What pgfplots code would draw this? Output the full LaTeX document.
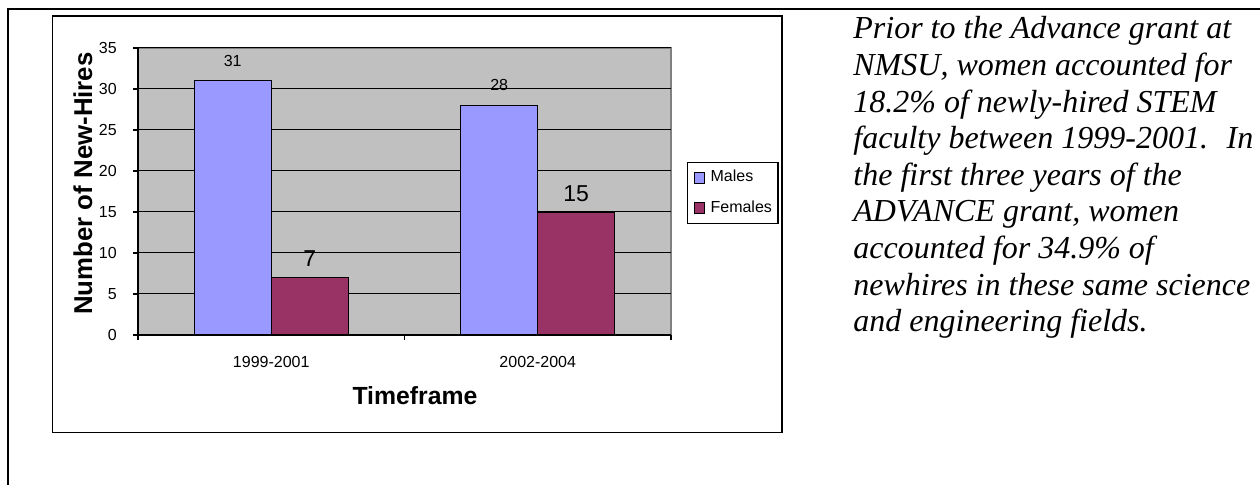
\documentclass[border=0pt]{standalone}
\usepackage{pgfplots}
\pgfplotsset{compat=1.18}
\usepackage{fontspec}
\setmainfont{Liberation Sans}
\newfontfamily\timesfont{Liberation Serif}
\definecolor{males}{HTML}{9999FF}
\definecolor{females}{HTML}{993366}
\definecolor{plotbg}{HTML}{C0C0C0}
\definecolor{plotborder}{HTML}{808080}
\begin{document}
\begin{tikzpicture}
\path[use as bounding box] (0,0) rectangle (630pt,242.5pt);
\fill[white] (0,0) rectangle (630pt,242.5pt);
\draw[line width=1.2pt] (4pt,-1pt) -- (4pt,238pt) -- (632pt,238pt);
\draw[line width=0.6pt, black] (26.25pt,26.2pt) rectangle (391pt,234.5pt);
\begin{axis}[
  at={(69pt,75pt)}, anchor=south west,
  scale only axis, width=266.5pt, height=143.5pt,
  xmin=-0.5, xmax=1.5, ymin=0, ymax=35,
  axis background/.style={fill=plotbg, draw=plotborder, line width=0.6pt},
  axis x line*=bottom, axis y line*=left,
  axis line style={black, line width=0.6pt},
  ytick={0,5,...,35},
  xtick={-0.5,0.5,1.5}, xticklabels={},
  extra x ticks={0,1},
  extra x tick labels={1999-2001,2002-2004},
  extra x tick style={major tick length=0pt, xticklabel style={yshift=-6.9pt}},
  tick align=outside, major tick length=2.5pt,
  tick style={black, line width=0.6pt},
  ymajorgrids, grid style={black, line width=0.5pt},
  ticklabel style={font=\fontsize{8}{9.6}\selectfont},
  yticklabel style={xshift=-4.6pt},
  /pgf/number format/assume math mode=true,
  xlabel={Timeframe}, ylabel={Number of New-Hires},
  xlabel style={at={(axis description cs:0.5197,-0.2439)}, anchor=base, font=\fontsize{12.4}{14}\selectfont\bfseries},
  every axis y label/.style={at={(axis description cs:-0.1032,0.5279)}, anchor=center, rotate=90, font=\fontsize{12.9}{15}\selectfont\bfseries},
  ybar, bar width=38.5pt,
  legend style={at={(axis description cs:1.030,0.6028)}, anchor=north west, draw=black, line width=0.6pt, fill=white,
    font=\fontsize{8}{9.6}\selectfont, inner xsep=3pt, inner ysep=3.9pt, row sep=8pt, column sep=3pt,
    nodes={inner sep=0pt}, cells={anchor=west}},
  legend image code/.code={\draw[#1, draw=black, line width=0.5pt] (0pt,-2.7pt) rectangle (5pt,2.7pt);},
]
\addplot[fill=males, draw=black, line width=0.6pt, bar shift=-19.25pt,
  nodes near coords,
  nodes near coords style={anchor=base, inner sep=0pt, yshift=7.25pt, text=black, font=\fontsize{8}{9.6}\selectfont}]
  coordinates {(0,31) (1,28)};
\addplot[fill=females, draw=black, line width=0.6pt, bar shift=19.25pt,
  nodes near coords,
  nodes near coords style={anchor=base, inner sep=0pt, yshift=5.3pt, text=black, font=\fontsize{11.5}{13}\selectfont}]
  coordinates {(0,7) (1,15)};
\legend{Males,Females}
\end{axis}
\begin{scope}[every node/.style={anchor=base west, inner sep=0pt, font=\timesfont\itshape\fontsize{16}{18.3}\selectfont}]
\node at (426.5pt,223pt) {Prior to the Advance grant at};
\node at (426.5pt,204.7pt) {NMSU, women accounted for};
\node at (426.5pt,186.4pt) {18.2\% of newly-hired STEM};
\node at (426.5pt,168.1pt) {faculty between 1999-2001. \ In};
\node at (426.5pt,149.8pt) {the first three years of the};
\node at (426.5pt,131.5pt) {ADVANCE grant, women};
\node at (426.5pt,113.2pt) {accounted for 34.9\% of};
\node at (426.5pt,94.9pt) {newhires in these same science};
\node at (426.5pt,76.6pt) {and engineering fields.};
\end{scope}
\end{tikzpicture}
\end{document}
